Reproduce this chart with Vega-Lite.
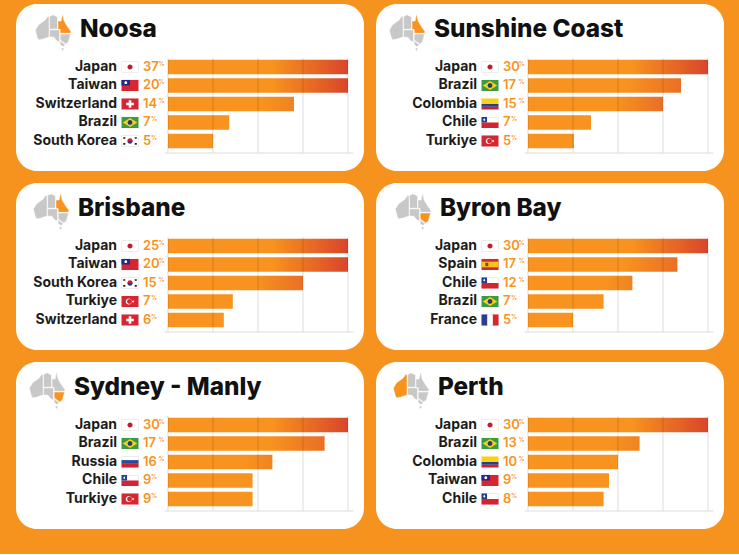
{
  "$schema": "https://vega.github.io/schema/vega-lite/v6.json",
  "background": "#F6921E",
  "padding": {"left": 16, "top": 4, "right": 15, "bottom": 25},
  "config": {"view": {"fill": "#ffffff", "stroke": null, "cornerRadius": 21}, "font": "Inter", "header": {"labels": false, "title": null, "labelFontSize": 0, "labelPadding": 0, "titlePadding": 0}},
  "datasets": {
    "flags": [
      {"country": "Japan", "parts": ["edge", "white", "jp"]},
      {"country": "Taiwan", "parts": ["redfull", "twcanton", "twsun"]},
      {"country": "Switzerland", "parts": ["redfull", "swiss"]},
      {"country": "Brazil", "parts": ["brgreen", "brdiamond", "brdisc"]},
      {"country": "South Korea", "parts": ["edge", "white", "krred", "krblue", "krbars"]},
      {"country": "Colombia", "parts": ["coyellow", "coblue", "cored"]},
      {"country": "Chile", "parts": ["edge", "white", "clred", "clblue", "clstar"]},
      {"country": "Turkiye", "parts": ["redfull", "trmoon", "trcut", "trstar"]},
      {"country": "Spain", "parts": ["redfull", "esband", "esarms"]},
      {"country": "France", "parts": ["edge", "white", "frblue", "frred"]},
      {"country": "Russia", "parts": ["edge", "white", "rublue", "rured"]}
    ],
    "maps": [
      {"city": "Noosa", "lit": "QLD", "nudge": "right", "grid": [0, 25, 50, 75, 100], "states": ["WA", "NT", "SA", "QLD", "NSW", "VIC", "TAS"]},
      {"city": "Sunshine Coast", "lit": "QLD", "nudge": "left", "grid": [0, 25, 50, 75, 100], "states": ["WA", "NT", "SA", "QLD", "NSW", "VIC", "TAS"]},
      {"city": "Brisbane", "lit": "QLD", "nudge": "mid", "grid": [0, 25, 50, 75, 100], "states": ["WA", "NT", "SA", "QLD", "NSW", "VIC", "TAS"]},
      {"city": "Byron Bay", "lit": "NSW", "nudge": "right", "grid": [0, 25, 50, 75, 100], "states": ["WA", "NT", "SA", "QLD", "NSW", "VIC", "TAS"]},
      {"city": "Sydney - Manly", "lit": "NSW", "nudge": "left", "grid": [0, 25, 50, 75, 100], "states": ["WA", "NT", "SA", "QLD", "NSW", "VIC", "TAS"]},
      {"city": "Perth", "lit": "WA", "nudge": "mid", "grid": [0, 25, 50, 75, 100], "states": ["WA", "NT", "SA", "QLD", "NSW", "VIC", "TAS"]}
    ]
  },
  "data": {
    "values": [
      {"city": "Noosa", "rank": 1, "country": "Japan", "pct": 37, "bar": 100},
      {"city": "Noosa", "rank": 2, "country": "Taiwan", "pct": 20, "bar": 100},
      {"city": "Noosa", "rank": 3, "country": "Switzerland", "pct": 14, "bar": 70},
      {"city": "Noosa", "rank": 4, "country": "Brazil", "pct": 7, "bar": 34},
      {"city": "Noosa", "rank": 5, "country": "South Korea", "pct": 5, "bar": 25},
      {"city": "Sunshine Coast", "rank": 1, "country": "Japan", "pct": 30, "bar": 100},
      {"city": "Sunshine Coast", "rank": 2, "country": "Brazil", "pct": 17, "bar": 85},
      {"city": "Sunshine Coast", "rank": 3, "country": "Colombia", "pct": 15, "bar": 75},
      {"city": "Sunshine Coast", "rank": 4, "country": "Chile", "pct": 7, "bar": 35},
      {"city": "Sunshine Coast", "rank": 5, "country": "Turkiye", "pct": 5, "bar": 25.5},
      {"city": "Brisbane", "rank": 1, "country": "Japan", "pct": 25, "bar": 100},
      {"city": "Brisbane", "rank": 2, "country": "Taiwan", "pct": 20, "bar": 100},
      {"city": "Brisbane", "rank": 3, "country": "South Korea", "pct": 15, "bar": 75},
      {"city": "Brisbane", "rank": 4, "country": "Turkiye", "pct": 7, "bar": 36},
      {"city": "Brisbane", "rank": 5, "country": "Switzerland", "pct": 6, "bar": 31},
      {"city": "Byron Bay", "rank": 1, "country": "Japan", "pct": 30, "bar": 100},
      {"city": "Byron Bay", "rank": 2, "country": "Spain", "pct": 17, "bar": 83},
      {"city": "Byron Bay", "rank": 3, "country": "Chile", "pct": 12, "bar": 58},
      {"city": "Byron Bay", "rank": 4, "country": "Brazil", "pct": 7, "bar": 42},
      {"city": "Byron Bay", "rank": 5, "country": "France", "pct": 5, "bar": 25},
      {"city": "Sydney - Manly", "rank": 1, "country": "Japan", "pct": 30, "bar": 100},
      {"city": "Sydney - Manly", "rank": 2, "country": "Brazil", "pct": 17, "bar": 87},
      {"city": "Sydney - Manly", "rank": 3, "country": "Russia", "pct": 16, "bar": 58},
      {"city": "Sydney - Manly", "rank": 4, "country": "Chile", "pct": 9, "bar": 47},
      {"city": "Sydney - Manly", "rank": 5, "country": "Turkiye", "pct": 9, "bar": 47},
      {"city": "Perth", "rank": 1, "country": "Japan", "pct": 30, "bar": 100},
      {"city": "Perth", "rank": 2, "country": "Brazil", "pct": 13, "bar": 62},
      {"city": "Perth", "rank": 3, "country": "Colombia", "pct": 10, "bar": 50},
      {"city": "Perth", "rank": 4, "country": "Taiwan", "pct": 9, "bar": 45},
      {"city": "Perth", "rank": 5, "country": "Chile", "pct": 8, "bar": 42}
    ]
  },
  "transform": [
    {"lookup": "country", "from": {"data": {"name": "flags"}, "key": "country", "fields": ["parts"]}},
    {"lookup": "city", "from": {"data": {"name": "maps"}, "key": "city", "fields": ["states", "lit", "nudge", "grid"]}}
  ],
  "facet": {
    "field": "city",
    "type": "nominal",
    "sort": ["Noosa", "Sunshine Coast", "Brisbane", "Byron Bay", "Sydney - Manly", "Perth"],
    "title": null,
    "header": {"title": null, "labels": false, "labelExpr": "''", "labelFontSize": 0, "labelPadding": 0}
  },
  "columns": 2,
  "spacing": 12,
  "resolve": {"scale": {"x": "independent", "y": "independent"}, "axis": {"x": "independent", "y": "independent"}},
  "spec": {
    "width": 348,
    "height": 167,
    "resolve": {"scale": {"y": "independent"}},
    "encoding": {
      "x": {
        "field": "bar",
        "type": "quantitative",
        "title": null,
        "scale": {"domain": [-2.22, 102.78], "range": [148, 337], "nice": false, "zero": false},
        "axis": {
          "values": [0, 25, 50, 75, 100],
          "labels": false,
          "ticks": false,
          "title": null,
          "offset": -18.5,
          "grid": false,
          "domainColor": "#e9e9e9",
          "domainWidth": 1.5
        }
      },
      "y": {
        "field": "rank",
        "type": "ordinal",
        "title": null,
        "axis": null,
        "scale": {"type": "band", "domain": [1, 2, 3, 4, 5], "range": [53.7, 149], "paddingInner": 0.22, "paddingOuter": 0.185, "align": 0.3}
      }
    },
    "layer": [
      {
        "transform": [{"filter": "datum.bar < 58"}],
        "mark": {"type": "bar", "color": "#F7931E"}
      },
      {
        "transform": [{"filter": "datum.bar >= 58 && datum.bar < 75"}],
        "mark": {"type": "bar", "color": {"gradient": "linear", "x1": 0, "x2": 1, "stops": [{"offset": 0, "color": "#F7931E"}, {"offset": 0.75, "color": "#F7931E"}, {"offset": 1, "color": "#EF8322"}]}}
      },
      {
        "transform": [{"filter": "datum.bar >= 75 && datum.bar < 100"}],
        "mark": {"type": "bar", "color": {"gradient": "linear", "x1": 0, "x2": 1, "stops": [{"offset": 0, "color": "#F7931E"}, {"offset": 0.65, "color": "#F7931E"}, {"offset": 1, "color": "#E96F26"}]}}
      },
      {
        "transform": [{"filter": "datum.bar == 100"}],
        "mark": {"type": "bar", "color": {"gradient": "linear", "x1": 0, "x2": 1, "stops": [{"offset": 0, "color": "#F7931E"}, {"offset": 0.58, "color": "#F7931E"}, {"offset": 1, "color": "#D9452A"}]}}
      },
      {
        "transform": [{"filter": "datum.rank == 1"}, {"flatten": ["grid"]}],
        "mark": {"type": "rule", "color": "#000000", "opacity": 0.14, "strokeWidth": 1},
        "encoding": {
          "x": {"field": "grid", "type": "quantitative"},
          "y": {"datum": 0, "type": "quantitative", "axis": null, "scale": {"domain": [0, 1], "range": [148.5, 54], "nice": false, "zero": false}},
          "y2": {"datum": 1}
        }
      },
      {
        "mark": {"type": "text", "align": "right", "baseline": "middle", "font": "Inter", "fontWeight": 700, "fontSize": 14, "color": "#1c1c1c"},
        "encoding": {
          "x": {"datum": -28.3, "type": "quantitative"},
          "text": {"field": "country"}
        }
      },
      {
        "transform": [{"flatten": ["parts"]}],
        "mark": {"type": "point", "filled": true, "opacity": 1, "size": 289, "strokeWidth": 0},
        "encoding": {
          "x": {"datum": -21.1, "type": "quantitative"},
          "color": {
            "field": "parts",
            "type": "nominal",
            "legend": null,
            "scale": {
              "domain": ["edge", "white", "jp", "redfull", "twcanton", "twsun", "swiss", "brgreen", "brdiamond", "brdisc", "krred", "krblue", "krbars", "coyellow", "coblue", "cored", "clred", "clblue", "clstar", "trmoon", "trcut", "trstar", "esband", "esarms", "frblue", "frred", "rublue", "rured"],
              "range": ["#dcdcdc", "#ffffff", "#BC1E2D", "#D62631", "#23278A", "#ffffff", "#ffffff", "#3C9A42", "#F6D21B", "#27387F", "#C8202F", "#24408E", "#222222", "#F8D117", "#24408E", "#D0202E", "#D3242F", "#23408F", "#ffffff", "#ffffff", "#D62631", "#ffffff", "#F6C51B", "#8C3A1E", "#2A3F92", "#D8262F", "#2A4A9E", "#D0202E"]
            }
          },
          "shape": {
            "field": "parts",
            "type": "nominal",
            "legend": null,
            "scale": {
              "domain": ["edge", "white", "jp", "redfull", "twcanton", "twsun", "swiss", "brgreen", "brdiamond", "brdisc", "krred", "krblue", "krbars", "coyellow", "coblue", "cored", "clred", "clblue", "clstar", "trmoon", "trcut", "trstar", "esband", "esarms", "frblue", "frred", "rublue", "rured", "WA", "NT", "SA", "QLD", "NSW", "VIC", "TAS"],
              "range": [
                "M-1,-0.65H1V0.65H-1Z",
                "M-0.94,-0.59H0.94V0.59H-0.94Z",
                "M-0.3,0A0.3,0.3 0 1 1 0.3,0A0.3,0.3 0 1 1 -0.3,0Z",
                "M-1,-0.65H1V0.65H-1Z",
                "M-1,-0.65H0V0H-1Z",
                "M-0.67,-0.33A0.17,0.17 0 1 1 -0.33,-0.33A0.17,0.17 0 1 1 -0.67,-0.33Z",
                "M-0.15,-0.45H0.15V-0.15H0.45V0.15H0.15V0.45H-0.15V0.15H-0.45V-0.15H-0.15Z",
                "M-1,-0.65H1V0.65H-1Z",
                "M0,-0.52L0.85,0L0,0.52L-0.85,0Z",
                "M-0.28,0A0.28,0.28 0 1 1 0.28,0A0.28,0.28 0 1 1 -0.28,0Z",
                "M-0.32,0A0.32,0.32 0 0 1 0.32,0Z",
                "M-0.32,0A0.32,0.32 0 0 0 0.32,0Z",
                "M-0.8,-0.45H-0.55V-0.25H-0.8ZM0.55,-0.45H0.8V-0.25H0.55ZM-0.8,0.25H-0.55V0.45H-0.8ZM0.55,0.25H0.8V0.45H0.55Z",
                "M-1,-0.65H1V0H-1Z",
                "M-1,0H1V0.33H-1Z",
                "M-1,0.33H1V0.65H-1Z",
                "M-1,0H1V0.65H-1Z",
                "M-1,-0.65H-0.35V0H-1Z",
                "M-0.68,-0.5L-0.55,-0.33L-0.68,-0.16L-0.81,-0.33Z",
                "M-0.5,0A0.36,0.36 0 1 1 0.22,0A0.36,0.36 0 1 1 -0.5,0Z",
                "M-0.34,0A0.28,0.28 0 1 1 0.22,0A0.28,0.28 0 1 1 -0.34,0Z",
                "M0.36,-0.15L0.5,0L0.36,0.15L0.22,0Z",
                "M-1,-0.33H1V0.33H-1Z",
                "M-0.55,-0.2H-0.2V0.2H-0.55Z",
                "M-1,-0.65H-0.33V0.65H-1Z",
                "M0.33,-0.65H1V0.65H0.33Z",
                "M-1,-0.22H1V0.22H-1Z",
                "M-1,0.22H1V0.65H-1Z",
                "M-0.98,-0.05L-0.8,-0.35L-0.45,-0.6L-0.3,-0.8L-0.22,-0.8V0.33L-0.55,0.45L-0.8,0.5L-0.88,0.35Z",
                "M-0.19,-0.8L0,-0.9L0.25,-0.78V-0.1H-0.19Z",
                "M-0.19,-0.06H0.36V0.62L0.2,0.55L0.05,0.35L-0.19,0.33Z",
                "M0.28,-0.55H0.45L0.53,-0.95L0.62,-0.55L0.8,-0.25L1,0.03L0.98,0.13H0.4V-0.08H0.28Z",
                "M0.4,0.17H0.98L0.85,0.62L0.7,0.72L0.4,0.5Z",
                "M0.4,0.55L0.68,0.76L0.55,0.88L0.4,0.75Z",
                "M0.45,0.95H0.62L0.56,1.1H0.5Z"
              ]
            }
          }
        }
      },
      {
        "transform": [{"filter": "datum.rank == 1 && datum.nudge == 'right'"}, {"flatten": ["states"]}],
        "mark": {"type": "point", "filled": true, "opacity": 1, "size": 1296, "stroke": "#ffffff", "strokeWidth": 0.5, "yOffset": -36, "xOffset": 2},
        "encoding": {
          "x": {"datum": -65, "type": "quantitative"},
          "color": {"condition": {"test": "datum.states == datum.lit", "value": "#F7931E"}, "value": "#C8C8C8"},
          "shape": {"field": "states", "type": "nominal", "legend": null}
        }
      },
      {
        "transform": [{"filter": "datum.rank == 1 && datum.nudge == 'left'"}, {"flatten": ["states"]}],
        "mark": {"type": "point", "filled": true, "opacity": 1, "size": 1296, "stroke": "#ffffff", "strokeWidth": 0.5, "yOffset": -36, "xOffset": -4},
        "encoding": {
          "x": {"datum": -65, "type": "quantitative"},
          "color": {"condition": {"test": "datum.states == datum.lit", "value": "#F7931E"}, "value": "#C8C8C8"},
          "shape": {"field": "states", "type": "nominal", "legend": null}
        }
      },
      {
        "transform": [{"filter": "datum.rank == 1 && datum.nudge == 'mid'"}, {"flatten": ["states"]}],
        "mark": {"type": "point", "filled": true, "opacity": 1, "size": 1296, "stroke": "#ffffff", "strokeWidth": 0.5, "yOffset": -36, "xOffset": 0},
        "encoding": {
          "x": {"datum": -65, "type": "quantitative"},
          "color": {"condition": {"test": "datum.states == datum.lit", "value": "#F7931E"}, "value": "#C8C8C8"},
          "shape": {"field": "states", "type": "nominal", "legend": null}
        }
      },
      {
        "transform": [{"filter": "datum.rank == 1 && datum.nudge == 'right'"}],
        "mark": {"type": "text", "align": "left", "baseline": "alphabetic", "dy": -30, "dx": 3, "font": "Inter", "fontWeight": 800, "fontSize": 24.3, "color": "#111111"},
        "encoding": {"x": {"datum": -50.6, "type": "quantitative"}, "text": {"field": "city"}}
      },
      {
        "transform": [{"filter": "datum.rank == 1 && datum.nudge == 'left'"}],
        "mark": {"type": "text", "align": "left", "baseline": "alphabetic", "dy": -30, "dx": -3, "font": "Inter", "fontWeight": 800, "fontSize": 24.3, "color": "#111111"},
        "encoding": {"x": {"datum": -50.6, "type": "quantitative"}, "text": {"field": "city"}}
      },
      {
        "transform": [{"filter": "datum.rank == 1 && datum.nudge == 'mid'"}],
        "mark": {"type": "text", "align": "left", "baseline": "alphabetic", "dy": -30, "dx": 1, "font": "Inter", "fontWeight": 800, "fontSize": 24.3, "color": "#111111"},
        "encoding": {"x": {"datum": -50.6, "type": "quantitative"}, "text": {"field": "city"}}
      },
      {
        "mark": {"type": "text", "align": "left", "baseline": "middle", "font": "Inter", "fontWeight": 600, "fontSize": 13, "color": "#F7931E"},
        "encoding": {
          "x": {"datum": -13.9, "type": "quantitative"},
          "text": {"field": "pct"}
        }
      },
      {
        "transform": [{"filter": "datum.pct >= 10"}],
        "mark": {"type": "text", "align": "left", "baseline": "middle", "font": "Inter", "fontWeight": 700, "fontSize": 6, "dx": 15.5, "dy": -3, "color": "#F7931E", "text": "%"},
        "encoding": {"x": {"datum": -13.9, "type": "quantitative"}}
      },
      {
        "transform": [{"filter": "datum.pct < 10"}],
        "mark": {"type": "text", "align": "left", "baseline": "middle", "font": "Inter", "fontWeight": 700, "fontSize": 6, "dx": 8, "dy": -3, "color": "#F7931E", "text": "%"},
        "encoding": {"x": {"datum": -13.9, "type": "quantitative"}}
      }
    ]
  }
}
